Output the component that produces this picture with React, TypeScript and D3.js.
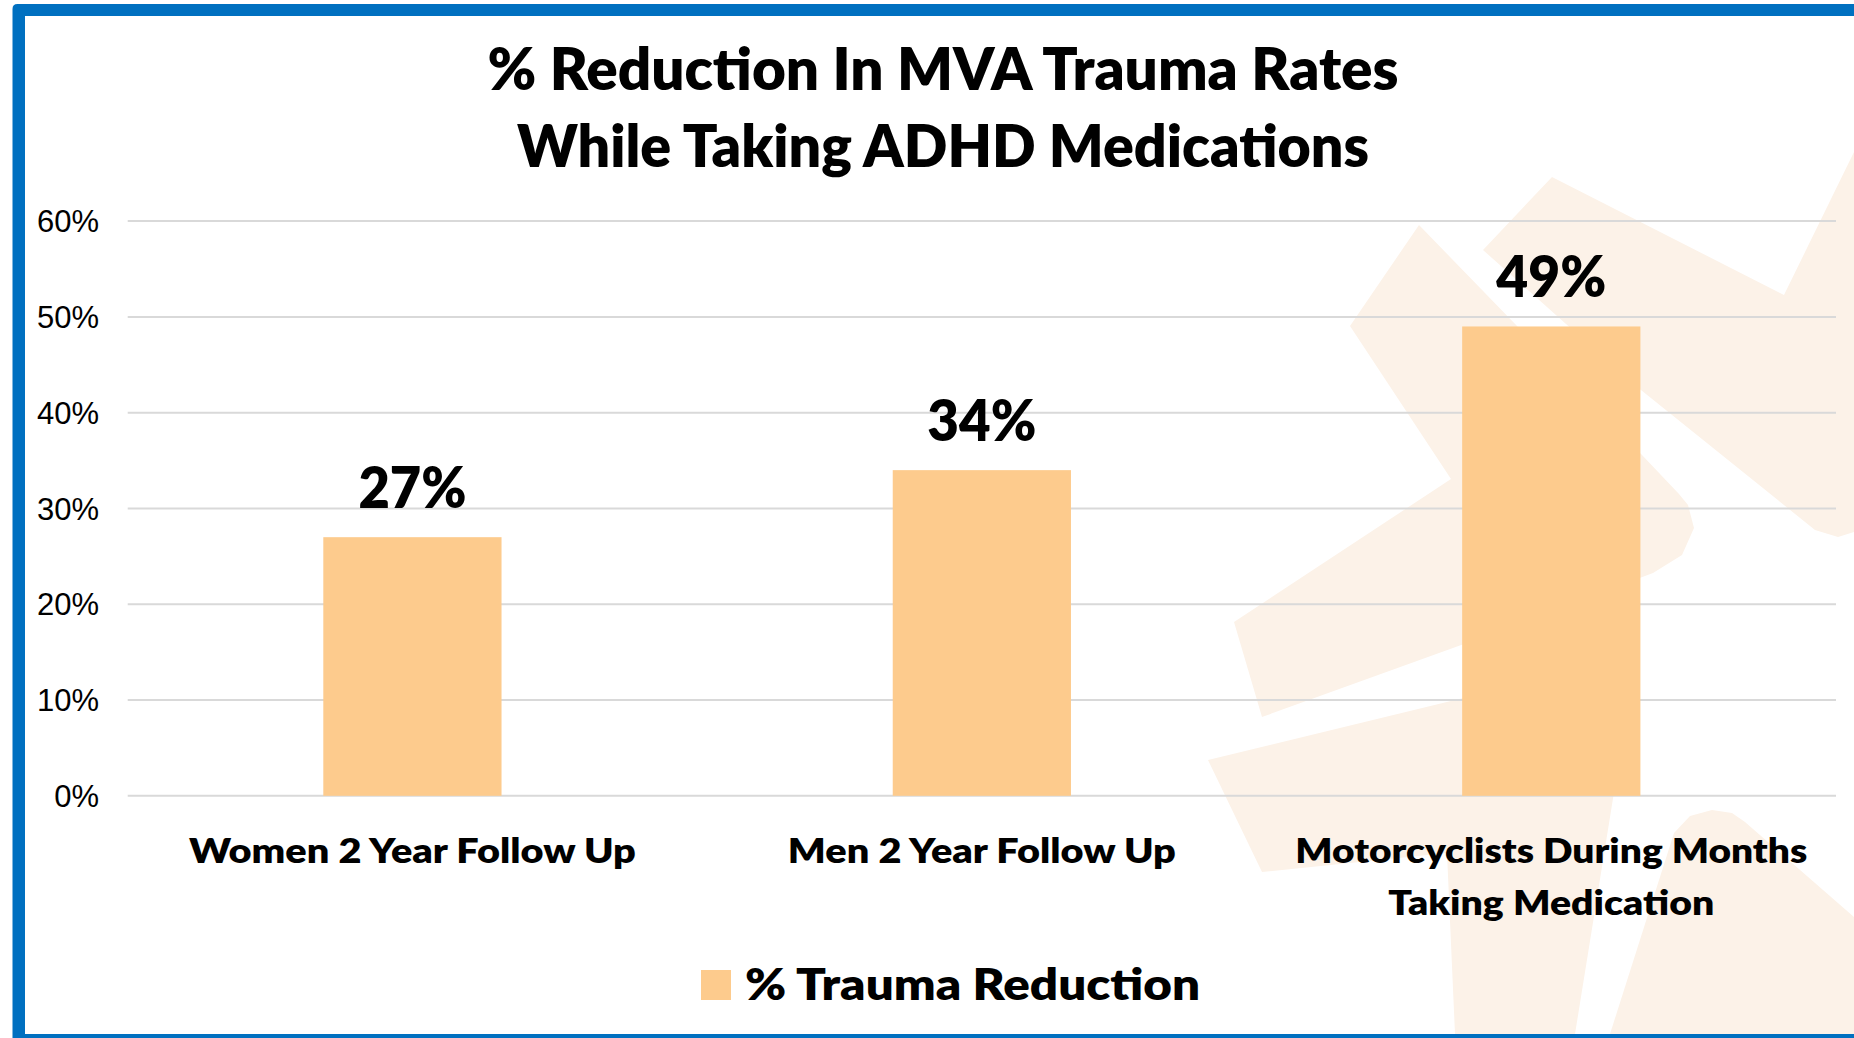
import React from "react";
import * as d3 from "d3";

const W = 1854;
const H = 1038;

const titleLines = ["% Reduction In MVA Trauma Rates", "While Taking ADHD Medications"];
const categories = ["Women 2 Year Follow Up", "Men 2 Year Follow Up", "Motorcyclists During Months Taking Medication"];
const categoryLines = [["Women 2 Year Follow Up"], ["Men 2 Year Follow Up"], ["Motorcyclists During Months", "Taking Medication"]];
const values = [0.27, 0.34, 0.49];
const valueLabels = ["27%", "34%", "49%"];
const yTicks = [0, 0.1, 0.2, 0.3, 0.4, 0.5, 0.6];
const seriesName = "% Trauma Reduction";

// decorative faded background shapes (not data)
const bgShapes = [
  [[1552, 177], [1784, 295], [1854, 152], [1854, 532], [1838, 537], [1815, 530], [1631, 382], [1483, 250]],
  [[1419, 225], [1350, 326], [1451, 479], [1234, 622], [1262, 717], [1464, 644], [1653, 573], [1682, 555], [1694, 528], [1688, 505], [1679, 494], [1642, 455]],
  [[1208, 760], [1636, 656], [1575, 1034], [1455, 1034], [1447, 853], [1262, 872]],
  [[1610, 1034], [1674, 833], [1690, 816], [1712, 810], [1732, 813], [1745, 822], [1854, 917], [1854, 1034]],
];

const BAR = "#FDCB8D";
const PEACH = "#FCF2E8";
const BLUE = "#0070C0";
const GRID = "#D9D9D9";
const BOLD = "Lato, 'Open Sans', sans-serif";
const WEIGHT = 800;

export default function App() {
  const x = d3.scaleBand<string>().domain(categories).range([127.7, 1836]).paddingInner(0.687).paddingOuter(0.3435);
  const y = d3.scaleLinear().domain([0, 0.6]).range([795.8, 221.1]);
  const fmt = d3.format(".0%");
  const line = d3.line();

  const catWidths = [[447], [388], [512, 326]];
  const labelWidths = [108, 109, 110];

  return (
    <svg width={W} height={H} style={{ position: "absolute", left: 0, top: 0, display: "block" }}>
      <rect x={0} y={0} width={W} height={H} fill="#fff" />
      {bgShapes.map((s, i) => (
        <path key={i} d={line(s as [number, number][]) + "Z"} fill={PEACH} />
      ))}
      {yTicks.map((t) => (
        <g key={t}>
          <line x1={127.7} x2={1836} y1={y(t)} y2={y(t)} stroke={GRID} strokeWidth={2} />
          <text x={99} y={y(t)} dy="0.36em" textAnchor="end" fontFamily="'Liberation Sans', Arial, sans-serif" fontSize={31} fill="#000">
            {fmt(t)}
          </text>
        </g>
      ))}
      {categories.map((c, i) => (
        <g key={c}>
          <rect x={x(c)} y={y(values[i])} width={x.bandwidth()} height={y(0) - y(values[i])} fill={BAR} />
          <text
            x={(x(c) as number) + x.bandwidth() / 2}
            y={y(values[i]) - 29}
            textAnchor="middle"
            fontFamily={BOLD}
            fontWeight={WEIGHT}
            fontSize={57}
            textLength={labelWidths[i]}
            lengthAdjust="spacingAndGlyphs"
            fill="#000"
          >
            {valueLabels[i]}
          </text>
          {categoryLines[i].map((ln, j) => (
            <text
              key={j}
              x={(x(c) as number) + x.bandwidth() / 2}
              y={863 + j * 52}
              textAnchor="middle"
              fontFamily={BOLD}
              fontWeight={WEIGHT}
              fontSize={33}
              textLength={catWidths[i][j]}
              lengthAdjust="spacingAndGlyphs"
              fill="#000"
            >
              {ln}
            </text>
          ))}
        </g>
      ))}
      {titleLines.map((t, i) => (
        <text
          key={i}
          x={943}
          y={90 + i * 77}
          textAnchor="middle"
          fontFamily={BOLD}
          fontWeight={WEIGHT}
          fontSize={58}
          textLength={i === 0 ? 911 : 852}
          lengthAdjust="spacingAndGlyphs"
          fill="#000"
        >
          {t}
        </text>
      ))}
      <rect x={701} y={970} width={30} height={30} fill={BAR} />
      <text x={745} y={1000} fontFamily={BOLD} fontWeight={WEIGHT} fontSize={43} textLength={455} lengthAdjust="spacingAndGlyphs" fill="#000">
        {seriesName}
      </text>
      {/* frame */}
      <path d={`M12.5,1038 L12.5,9 Q12.5,4 17.5,4 L${W},4 L${W},16 L25,16 L25,1034 L${W},1034 L${W},1038 Z`} fill={BLUE} />
    </svg>
  );
}
